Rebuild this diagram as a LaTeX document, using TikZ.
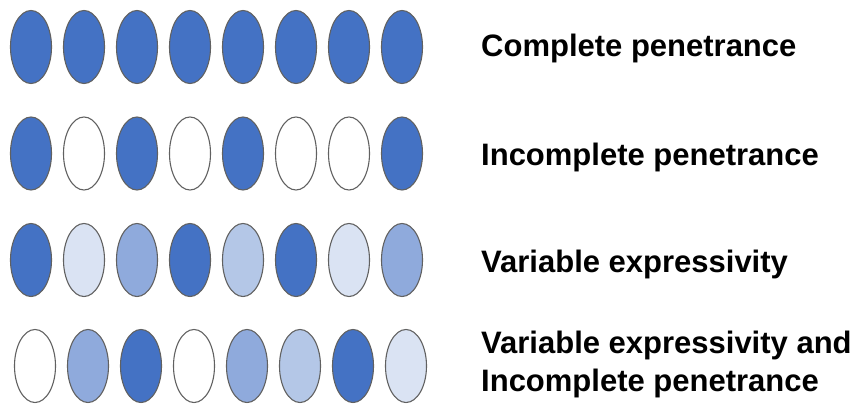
\documentclass[tikz,border=0pt]{standalone}
\usepackage{fontspec}
\setmainfont{Liberation Sans}
\definecolor{dk}{HTML}{4472C4}
\definecolor{md}{HTML}{8FAADC}
\definecolor{lt}{HTML}{B4C7E7}
\definecolor{vl}{HTML}{DAE3F3}
\begin{document}
\begin{tikzpicture}[x=1pt, y=-1pt,
	ind/.style={draw=black!62, line width=1.1pt},
	lbl/.style={anchor=base west, inner sep=0pt, font=\bfseries\fontsize{31}{38}\selectfont}]
	\useasboundingbox (0,0) rectangle (852,405);
	% individuals, one row per case
	\foreach \c [count=\i] in {dk,dk,dk,dk,dk,dk,dk,dk}
		\draw[ind, fill=\c] (31+53*\i-53,47) ellipse (20.5 and 36.5);
	\foreach \c [count=\i] in {dk,white,dk,white,dk,white,white,dk}
		\draw[ind, fill=\c] (31+53*\i-53,153.5) ellipse (20.5 and 36.5);
	\foreach \c [count=\i] in {dk,vl,md,dk,lt,dk,vl,md}
		\draw[ind, fill=\c] (31+53*\i-53,260) ellipse (20.5 and 36.5);
	\foreach \c [count=\i] in {white,md,dk,white,md,lt,dk,vl}
		\draw[ind, fill=\c] (35+53*\i-53,366) ellipse (20.5 and 36.5);
	% labels
	\node[lbl] (complete) at (481,56) {Complete penetrance};
	\node[lbl] (incomplete) at (481,165) {Incomplete penetrance};
	\node[lbl] (variable) at (481,272) {Variable expressivity};
	\node[lbl] (both1) at (481,353) {Variable expressivity and};
	\node[lbl] (both2) at (481,391) {Incomplete penetrance};
\end{tikzpicture}
\end{document}
